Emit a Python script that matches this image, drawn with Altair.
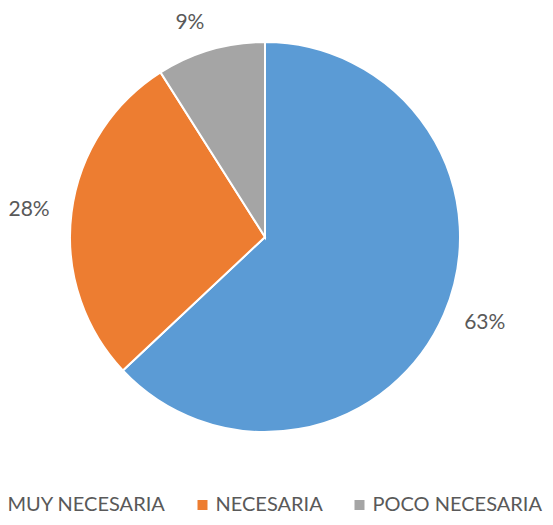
import altair as alt
import pandas as pd

categories = ["MUY NECESARIA", "NECESARIA", "POCO NECESARIA"]
values = [63, 28, 9]
labels = ["63%", "28%", "9%"]
colors = ["#5B9BD5", "#ED7D31", "#A5A5A5"]

df = pd.DataFrame({"cat": categories, "val": values, "lab": labels, "idx": list(range(len(categories)))})

FONT = "Lato"
TXT = "#595959"
FS = 21
LFS = 20

base = alt.Chart(df)

pie = base.mark_arc(outerRadius=195, stroke="white", strokeWidth=2).encode(
    theta=alt.Theta("val:Q", stack=True, scale=alt.Scale(domain=[0, 100])),
    order=alt.Order("idx:Q"),
    color=alt.Color(
        "cat:N",
        scale=alt.Scale(domain=categories, range=colors),
        legend=alt.Legend(
            orient="none", legendX=-23.5, legendY=487, direction="horizontal",
            title=None, symbolType="square", symbolSize=100, symbolStrokeWidth=0,
            labelFontSize=LFS, labelFont=FONT, labelColor=TXT, labelOffset=3,
            labelLimit=400, columnPadding=26, padding=0,
        ),
    ),
)

lab_base = base.transform_window(
    cum="sum(val)", sort=[alt.SortField("idx")]
).transform_calculate(mid="datum.cum - datum.val / 2")


def label_layer(i, align, baseline):
    return lab_base.transform_filter(alt.datum.idx == i).mark_text(
        radius=217, font=FONT, fontSize=FS, color=TXT, align=align, baseline=baseline
    ).encode(
        theta=alt.Theta("mid:Q", stack=False, scale=alt.Scale(domain=[0, 100])),
        text="lab:N",
    )


text = alt.layer(
    label_layer(0, "left", "middle"),
    label_layer(1, "right", "middle"),
    label_layer(2, "right", "alphabetic"),
)

chart = alt.layer(pie, text).properties(
    width=514, height=458,
    padding={"left": 0, "top": 0, "right": 23, "bottom": 51},
    autosize=alt.AutoSizeParams(type="none"),
).configure_view(stroke=None)

chart.save("out.html", embed_options={"renderer": "svg", "actions": False})
